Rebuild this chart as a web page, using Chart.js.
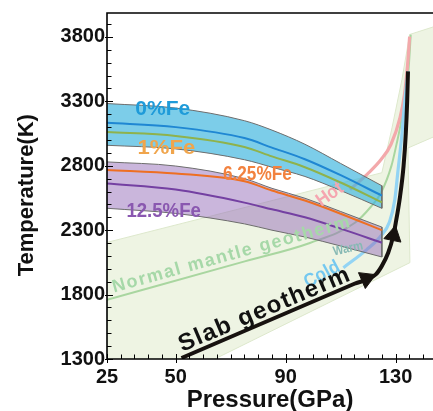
<!DOCTYPE html>
<html lang="en">
<head>
<meta charset="UTF-8">
<title>Slab geotherm vs spin transition</title>
<script src="https://cdn.jsdelivr.net/npm/chart.js@4"></script>
<style>
  html, body { margin: 0; padding: 0; background: #fff; }
  canvas { display: block; }
</style>
</head>
<body>
<canvas id="chart" width="433" height="411"></canvas>
<script>
// ---- data (pressure in GPa, temperature in K) ----
const bandPressure = [25, 50, 75, 85, 97, 110, 125];
const fe0Upper  = [3283, 3248, 3150, 3077, 2967, 2818, 2645];
const fe0Line   = [3134, 3100, 3015, 2941, 2851, 2727, 2568];
const fe1Line   = [3062, 3032, 2946, 2873, 2789, 2670, 2517];
const fe0Lower  = [2959, 2931, 2847, 2789, 2717, 2608, 2470];
const fe12Upper = [2830, 2798, 2700, 2625, 2548, 2445, 2324];
const fe6Line   = [2768, 2740, 2680, 2608, 2530, 2428, 2300];
const fe12Line  = [2663, 2615, 2514, 2462, 2400, 2312, 2203];
const fe12Lower = [2470, 2430, 2349, 2300, 2247, 2177, 2092];

// outline of the mantle geotherm envelope
const envelopeP = [25, 25, 125, 128.7, 132.3, 135.1, 144, 144, 134.5, 135.2, 64.2];
const envelopeT = [1300, 2205, 2746, 3096, 3469, 3819, 3880, 3026, 2938, 2048, 1300];

const normalP = [25, 75.1, 98.8, 115.2, 121.0, 124.7, 128.5, 130.3, 131.8, 133.0, 134.7, 135.5];
const normalT = [1760, 2058, 2201, 2358, 2482, 2591, 2801, 2964, 3119, 3290, 3546, 3818];

const hotP = [113.4, 119.9, 124.7, 128.3, 131.6, 133.2, 134.3, 135.1];
const hotT = [2615, 2739, 2848, 2965, 3174, 3352, 3572, 3802];

const coldP = [111.0, 119.5, 124.7, 127.8, 129.7, 130.9, 132.1, 133.4, 134.6];
const coldT = [2009, 2149, 2257, 2366, 2537, 2770, 3003, 3313, 3533];

const slabP = [52.1, 115, 122.7, 124.9, 127.3, 129.1, 130.0, 131.6, 132.9, 133.7, 134.2, 134.5];
const slabT = [1308, 1884, 1955, 2019, 2125, 2252, 2351, 2560, 2800, 3050, 3300, 3533];

const arrowP = [119.4, 129.2];
const arrowT = [1924, 2259];
const arrowAngle = [66.8, 11.6];

const xTicks = [25, 50, 90, 130];
const yTicks = [1300, 1800, 2300, 2800, 3300, 3800];

const pts = (xs, ys) => xs.map((x, i) => ({x: x, y: ys[i]}));

// text placed on the plot
const FONT = 'Arial, "Liberation Sans", sans-serif';
const labels = [
  {text: '0%Fe', p: 45.3, t: 3243, color: '#1f9bd9', size: 21, sx: 1},
  {text: '1%Fe', p: 46.6, t: 2933, color: '#f0a54c', size: 21, sx: 1.05},
  {text: '6.25%Fe', p: 79.7, t: 2731, color: '#f2823f', size: 20, sx: 0.86},
  {text: '12.5%Fe', p: 45.6, t: 2446, color: '#8a58b0', size: 20, sx: 0.93},
  {text: 'Hot', p: 106.1, t: 2576, color: '#f5a6b0', size: 19, angle: -35, sx: 0.9},
  {text: 'Warm', p: 112.7, t: 2156, color: '#86b9b4', size: 13, angle: -12, sx: 0.85},
  {text: 'Cold', p: 103.2, t: 1954, color: '#74c8f0', size: 19, angle: -28, sx: 0.9},
  {text: 'Normal mantle geotherm', p: 70.4, t: 2110, color: '#a6d8a8', size: 18, angle: -15.5, spacing: 1.6},
  {text: 'Slab geotherm', p: 82.4, t: 1683, color: '#111', size: 24, angle: -23, spacing: 1.4}
];

const overlay = {
  id: 'overlay',
  afterDatasetsDraw(chart) {
    const {ctx, chartArea: a, scales: {x, y}} = chart;
    labels.forEach(m => {
      ctx.save();
      ctx.translate(x.getPixelForValue(m.p), y.getPixelForValue(m.t));
      ctx.rotate((m.angle || 0) * Math.PI / 180);
      ctx.scale(m.sx || 1, 1);
      ctx.font = 'bold ' + m.size + 'px ' + FONT;
      ctx.letterSpacing = (m.spacing || 0) + 'px';
      ctx.fillStyle = m.color;
      ctx.textAlign = 'center';
      ctx.textBaseline = 'middle';
      ctx.fillText(m.text, 0, 0);
      ctx.restore();
    });

    // frame with inward ticks
    ctx.save();
    ctx.strokeStyle = '#000';
    ctx.lineWidth = 1.6;
    ctx.beginPath();
    ctx.moveTo(a.right + 2, a.top);
    ctx.lineTo(a.left, a.top);
    ctx.lineTo(a.left, a.bottom);
    ctx.lineTo(a.right + 2, a.bottom);
    ctx.stroke();
    ctx.lineWidth = 1;
    ctx.beginPath();
    for (let t = 1300; t <= 3900; t += 100) {
      const py = Math.round(y.getPixelForValue(t)) + 0.5;
      const major = yTicks.includes(t);
      ctx.moveTo(a.left - (major ? 2 : 0), py);
      ctx.lineTo(a.left + (major ? 6 : 4.5), py);
    }
    for (let p = 25; p <= 145; p += 5) {
      const px = Math.round(x.getPixelForValue(p)) + 0.5;
      const major = xTicks.includes(p);
      ctx.moveTo(px, a.bottom + (major ? 4 : 0));
      ctx.lineTo(px, a.bottom - (major ? 5 : 4.5));
    }
    ctx.stroke();
    ctx.restore();
  }
};

const line = (data, color, width, order, extra) => Object.assign({
  data: data, borderColor: color, borderWidth: width, pointRadius: 0,
  fill: false, order: order, cubicInterpolationMode: 'monotone'
}, extra || {});

const datasets = [
  // envelope (bottom layer)
  line(pts(envelopeP, envelopeT), '#dde8cc', 1, 20,
       {fill: 'shape', backgroundColor: '#eef4e3', cubicInterpolationMode: 'default', tension: 0}),
  // geotherms
  line(pts(normalP, normalT), '#a9d6a0', 2, 19),
  line(pts(hotP, hotT), '#f3a9ab', 3.2, 18),
  line(pts(coldP, coldT), '#93d4f4', 3.2, 17),
  // 0-1%Fe band
  line(pts(bandPressure, fe0Upper), '#6d6d6d', 1, 16,
       {fill: '+1', backgroundColor: 'rgba(62,181,222,0.68)'}),
  line(pts(bandPressure, fe0Lower), '#6d6d6d', 1, 15),
  line([{x: 125, y: fe0Upper[6]}, {x: 125, y: fe0Lower[6]}], '#6d6d6d', 1, 15, {cubicInterpolationMode: 'default'}),
  line(pts(bandPressure, fe0Line), '#1f87d3', 2, 14),
  line(pts(bandPressure, fe1Line), '#8fb24c', 2, 14),
  // 6.25-12.5%Fe band
  line(pts(bandPressure, fe12Upper), '#6d6d6d', 1, 13,
       {fill: '+1', backgroundColor: 'rgba(150,110,185,0.5)'}),
  line(pts(bandPressure, fe12Lower), '#6d6d6d', 1, 12),
  line([{x: 125, y: fe12Upper[6]}, {x: 125, y: fe12Lower[6]}], '#6d6d6d', 1, 12, {cubicInterpolationMode: 'default'}),
  line(pts(bandPressure, fe6Line), '#ee6f22', 2, 11),
  line(pts(bandPressure, fe12Line), '#7440a2', 2, 11),
  // slab geotherm with arrowheads
  line(pts(slabP, slabT), '#17120f', 4, 2),
  {
    data: pts(arrowP, arrowT), showLine: false, order: 1,
    pointStyle: 'triangle', pointRadius: 10, rotation: arrowAngle,
    backgroundColor: '#17120f', borderColor: '#17120f', borderWidth: 1
  }
];

const tickFont = {family: FONT, size: 20, weight: 'bold'};

new Chart(document.getElementById('chart'), {
  type: 'line',
  data: {datasets: datasets},
  options: {
    responsive: false,
    animation: false,
    layout: {autoPadding: false, padding: {top: 13, right: 0, left: 0, bottom: 0}},
    plugins: {legend: {display: false}, tooltip: {enabled: false}},
    scales: {
      x: {
        type: 'linear', min: 25, max: 143.6,
        afterBuildTicks: s => { s.ticks = xTicks.map(v => ({value: v})); },
        afterFit: s => { s.height = 52; s.paddingLeft = 0; s.paddingRight = 0; },
        grid: {display: false, drawTicks: false},
        border: {display: false},
        ticks: {color: '#111', font: tickFont, padding: 6, maxRotation: 0, autoSkip: false,
                callback: v => String(v)},
        title: {display: true, text: 'Pressure(GPa)', color: '#111',
                font: {family: FONT, size: 24, weight: 'bold', lineHeight: 0.85}, padding: {top: 0, bottom: 0}}
      },
      y: {
        type: 'linear', min: 1300, max: 3986,
        afterBuildTicks: s => { s.ticks = yTicks.map(v => ({value: v})); },
        afterFit: s => { s.width = 107; s.paddingTop = 0; s.paddingBottom = 0; },
        grid: {display: false, drawTicks: false},
        border: {display: false},
        ticks: {color: '#111', font: tickFont, padding: 2, autoSkip: false,
                callback: v => String(v)},
        title: {display: true, text: 'Temperature(K)   ', color: '#111',
                font: {family: FONT, size: 22, weight: 'bold'}, padding: {top: 14, bottom: 0}}
      }
    }
  },
  plugins: [overlay]
});
</script>
</body>
</html>
